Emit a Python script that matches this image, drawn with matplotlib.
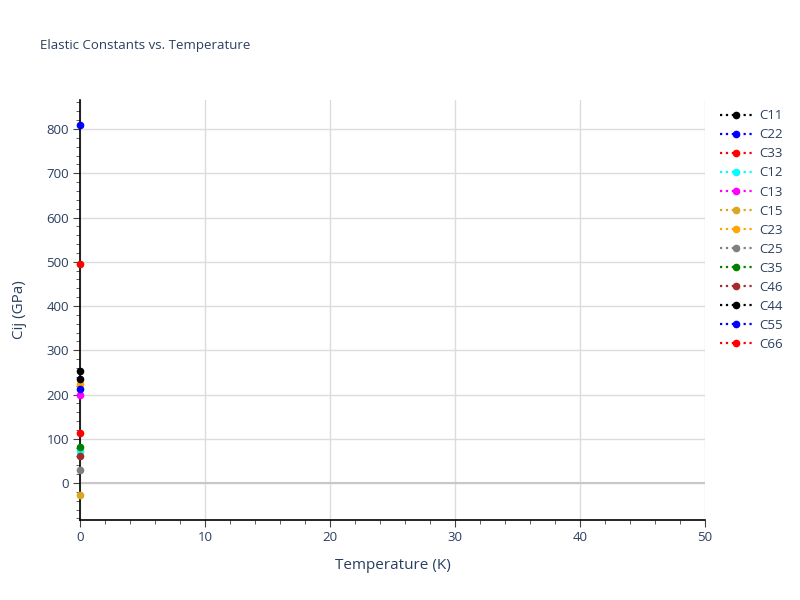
import matplotlib
matplotlib.use("Agg")
import matplotlib.pyplot as plt
from matplotlib.ticker import MultipleLocator

plt.rcParams['font.family'] = ['Open Sans', 'DejaVu Sans']

TEXT_COL = '#2a3f5f'

# one temperature point
temperature = [0]
labels = ['C11', 'C22', 'C33', 'C12', 'C13', 'C15', 'C23',
          'C25', 'C35', 'C46', 'C44', 'C55', 'C66']
values = [254, 810, 494, 72, 198, -27, 224, 29, 82, 61, 235, 212, 114]
colors = ['black', 'blue', 'red', 'cyan', 'magenta', 'goldenrod', 'orange',
          'gray', 'green', 'brown', 'black', 'blue', 'red']

fig = plt.figure(figsize=(8, 6), dpi=100)
ax = fig.add_axes([0.1, 0.1333, 0.78125, 0.7])

for lab, val, col in zip(labels, values, colors):
    ax.plot(temperature, [val], linestyle=':', color=col, marker='o',
            markersize=4.5, linewidth=1.6, label=lab, clip_on=False, zorder=5)

ax.set_xlim(0, 50)
ax.set_ylim(-83.6, 865.5)

ax.xaxis.set_major_locator(MultipleLocator(10))
ax.xaxis.set_minor_locator(MultipleLocator(2))
ax.yaxis.set_major_locator(MultipleLocator(100))
ax.yaxis.set_minor_locator(MultipleLocator(20))

ax.grid(True, which='major', color='#dcdcdc', linewidth=1)
ax.axhline(0, color='#c8c8c8', linewidth=1.5, zorder=1)
ax.set_axisbelow(True)

for side in ['top', 'right']:
    ax.spines[side].set_visible(False)
for side in ['left', 'bottom']:
    ax.spines[side].set_color('black')
    ax.spines[side].set_linewidth(1.2)

ax.tick_params(which='major', length=5, color='#444444', labelcolor=TEXT_COL,
               labelsize=9.5, pad=3)
ax.tick_params(which='minor', length=3, color='#444444')

ax.set_xlabel('Temperature (K)', color=TEXT_COL, fontsize=11, labelpad=10)
ax.set_ylabel('Cij (GPa)', color=TEXT_COL, fontsize=11, labelpad=14)

fig.text(0.05, 0.925, 'Elastic Constants vs. Temperature', color=TEXT_COL,
         fontsize=9.5, va='center')

leg = ax.legend(loc='upper left', bbox_to_anchor=(1.01, 1.0), frameon=False,
                fontsize=9.5, handlelength=2.4, handletextpad=0.5,
                labelspacing=0.46, borderaxespad=0.3)
for t in leg.get_texts():
    t.set_color(TEXT_COL)

fig.savefig('out.png', dpi=100)
